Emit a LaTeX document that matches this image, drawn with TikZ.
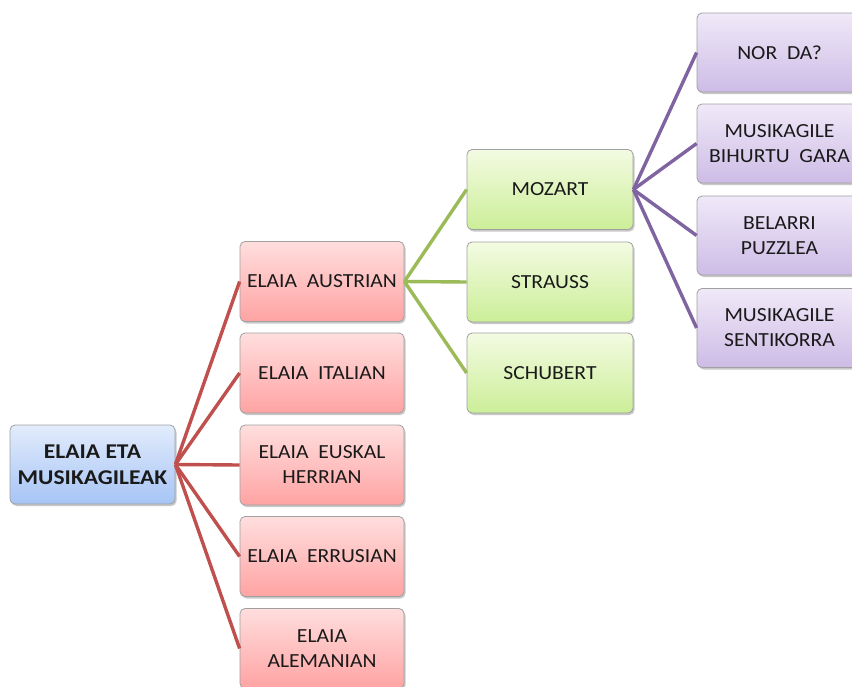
\documentclass[tikz,border=0pt]{standalone}
\usepackage{fontspec}
\setmainfont{Carlito}[FakeStretch=1.08]
\usetikzlibrary{shadows}
\definecolor{redline}{HTML}{C0504D}
\definecolor{greenline}{HTML}{9BBB59}
\definecolor{purpleline}{HTML}{8064A2}
\definecolor{boxborder}{HTML}{A0A0A0}
\definecolor{textcol}{HTML}{1A1A1A}
\definecolor{bluetop}{HTML}{E2ECFC}
\definecolor{bluebot}{HTML}{A6C4F5}
\definecolor{redtop}{HTML}{FFDEDE}
\definecolor{redbot}{HTML}{FFA3A3}
\definecolor{greentop}{HTML}{F3FBE2}
\definecolor{greenbot}{HTML}{CCEE98}
\definecolor{purpletop}{HTML}{F0E9F8}
\definecolor{purplebot}{HTML}{CDBCE6}
\newfontfamily\rootfont{Carlito}[FakeStretch=1.12]
\begin{document}
\begin{tikzpicture}[x=1pt,y=-1pt,
  box/.style={draw=boxborder, line width=0.8pt, rounded corners=5pt,
    minimum width=165pt, minimum height=80pt, inner sep=0pt, align=center,
    font=\fontsize{20}{25}\selectfont, text=textcol,
    drop shadow={shadow xshift=1.5pt, shadow yshift=-2pt, opacity=0.3, fill=black!70}},
  rootbox/.style={box, top color=bluetop, bottom color=bluebot, minimum height=79pt,
    font=\rootfont\fontsize{21}{26}\selectfont\bfseries},
  redbox/.style={box, top color=redtop, bottom color=redbot, minimum width=164pt},
  greenbox/.style={box, top color=greentop, bottom color=greenbot, minimum width=166pt},
  purplebox/.style={box, top color=purpletop, bottom color=purplebot, minimum height=79pt},
  redl/.style={draw=redline, line width=3.4pt},
  greenl/.style={draw=greenline, line width=3.4pt},
  purplel/.style={draw=purpleline, line width=3.4pt}]
\useasboundingbox (0,0) rectangle (852,686);
\clip (0,0) rectangle (852,686);
\fill[white] (0,0) rectangle (852,686);

\node[rootbox] (root) at (92.5,464.5) {ELAIA ETA\\MUSIKAGILEAK};

\node[redbox] (r1) at (322,281.5) {ELAIA~~AUSTRIAN};
\node[redbox] (r2) at (322,373) {ELAIA~~ITALIAN};
\node[redbox] (r3) at (322,465) {ELAIA~~EUSKAL\\HERRIAN};
\node[redbox] (r4) at (322,556.5) {ELAIA~~ERRUSIAN};
\node[redbox] (r5) at (322,648.5) {ELAIA\\ALEMANIAN};

\node[greenbox] (g1) at (550,189.5) {MOZART};
\node[greenbox] (g2) at (550,282) {STRAUSS};
\node[greenbox] (g3) at (550,373) {SCHUBERT};

\node[purplebox] (p1) at (779.5,52.5) {NOR~~DA?};
\node[purplebox] (p2) at (779.5,143.5) {MUSIKAGILE\\BIHURTU~~GARA};
\node[purplebox] (p3) at (779.5,235.5) {BELARRI\\PUZZLEA};
\node[purplebox] (p4) at (779.5,328) {MUSIKAGILE\\SENTIKORRA};

\foreach \t in {r1,r2,r3,r4,r5} \draw[redl] (root.east) -- (\t.west);
\foreach \t in {g1,g2,g3} \draw[greenl] (r1.east) -- (\t.west);
\foreach \t in {p1,p2,p3,p4} \draw[purplel] (g1.east) -- (\t.west);
\end{tikzpicture}
\end{document}
